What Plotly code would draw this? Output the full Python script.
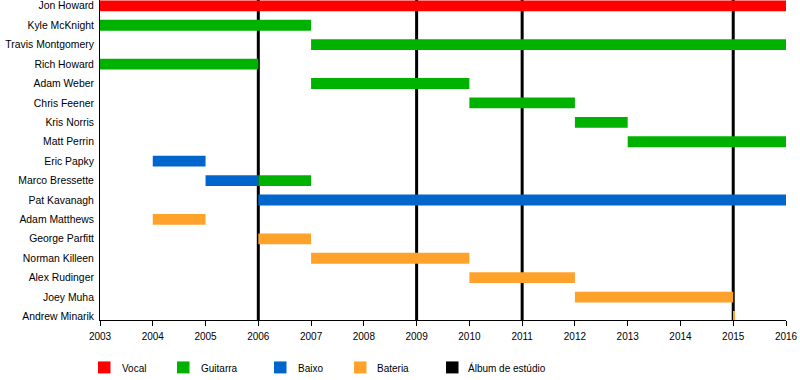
import plotly.graph_objects as go

members = ["Jon Howard", "Kyle McKnight", "Travis Montgomery", "Rich Howard", "Adam Weber",
           "Chris Feener", "Kris Norris", "Matt Perrin", "Eric Papky", "Marco Bressette",
           "Pat Kavanagh", "Adam Matthews", "George Parfitt", "Norman Killeen",
           "Alex Rudinger", "Joey Muha", "Andrew Minarik"]

# (member, role, start, end)
periods_member = ["Jon Howard", "Kyle McKnight", "Travis Montgomery", "Rich Howard", "Adam Weber",
                  "Chris Feener", "Kris Norris", "Matt Perrin", "Eric Papky", "Marco Bressette",
                  "Marco Bressette", "Pat Kavanagh", "Adam Matthews", "George Parfitt",
                  "Norman Killeen", "Alex Rudinger", "Joey Muha", "Andrew Minarik"]
periods_role = ["Vocal", "Guitarra", "Guitarra", "Guitarra", "Guitarra",
                "Guitarra", "Guitarra", "Guitarra", "Baixo", "Baixo",
                "Guitarra", "Baixo", "Bateria", "Bateria",
                "Bateria", "Bateria", "Bateria", "Bateria"]
periods_start = [2003, 2003, 2007, 2003, 2007, 2010, 2012, 2013, 2004, 2005,
                 2006, 2006, 2004, 2006, 2007, 2010, 2012, 2015]
periods_end = [2016, 2007, 2016, 2006, 2010, 2012, 2013, 2016, 2005, 2006,
               2007, 2016, 2005, 2007, 2010, 2012, 2015, 2015.02]

albums = [2006, 2009, 2011, 2015]
years = list(range(2003, 2017))

roles = ["Vocal", "Guitarra", "Baixo", "Bateria"]
role_colors = {"Vocal": "#FF0000", "Guitarra": "#00B200", "Baixo": "#0066CC",
               "Bateria": "#FFA22C"}
legend_labels = ["Vocal", "Guitarra", "Baixo", "Bateria", "Álbum de estúdio"]
legend_colors = ["#FF0000", "#00B200", "#0066CC", "#FFA22C", "#000000"]

FONT = "Liberation Sans, Arial, sans-serif"

fig = go.Figure()
for role in roles:
    ys, xs, bs = [], [], []
    for m, r, s, e in zip(periods_member, periods_role, periods_start, periods_end):
        if r == role:
            ys.append(members.index(m))
            bs.append(s)
            xs.append(e - s)
    fig.add_trace(go.Bar(y=ys, x=xs, base=bs, orientation="h", width=0.56,
                         marker=dict(color=role_colors[role], line=dict(width=0)),
                         name=role, showlegend=False))

for a in albums:
    fig.add_shape(type="line", x0=a, x1=a, y0=0, y1=1, xref="x", yref="paper",
                  line=dict(color="black", width=3), layer="below")

# manual legend
L, R, T, B = 100, 786, 0, 320.5
W, H = R - L, B - T
leg_sq_x = [98, 177, 274, 354, 446]
leg_tx_x = [120, 199, 296, 375, 466]
for lbl, col, sx, tx in zip(legend_labels, legend_colors, leg_sq_x, leg_tx_x):
    fig.add_shape(type="rect", xref="paper", yref="paper",
                  x0=(sx - L) / W, x1=(sx + 12.5 - L) / W,
                  y0=(B - 374) / H, y1=(B - 362) / H,
                  fillcolor=col, line=dict(width=0))
    fig.add_annotation(text=lbl, xref="paper", yref="paper",
                       x=(tx - L) / W, y=(B - 369) / H, xanchor="left", yanchor="middle",
                       showarrow=False, font=dict(family=FONT, size=10, color="black"))

fig.update_layout(
    width=800, height=380,
    margin=dict(l=L, r=800 - R, t=T, b=380 - B),
    plot_bgcolor="white", paper_bgcolor="white",
    barmode="overlay", showlegend=False,
    font=dict(family=FONT, size=10, color="black"),
)
fig.update_xaxes(range=[2003, 2016], tickvals=years, ticktext=[str(y) for y in years],
                 showgrid=False, zeroline=False, showline=True, linecolor="black", linewidth=1,
                 ticks="outside", ticklen=5, tickcolor="black", tickwidth=1,
                 ticklabelstandoff=2, tickfont=dict(family=FONT, size=10))
fig.update_yaxes(range=[16.18, -0.3], tickvals=list(range(len(members))), ticktext=members,
                 showgrid=False, zeroline=False, showline=True, linecolor="black", linewidth=1,
                 ticks="", ticklabelstandoff=3, tickfont=dict(family=FONT, size=10.4))

fig.write_html("out.html", config={"displayModeBar": False},
               post_script="document.body.style.margin='0';document.body.style.overflow='hidden';")
